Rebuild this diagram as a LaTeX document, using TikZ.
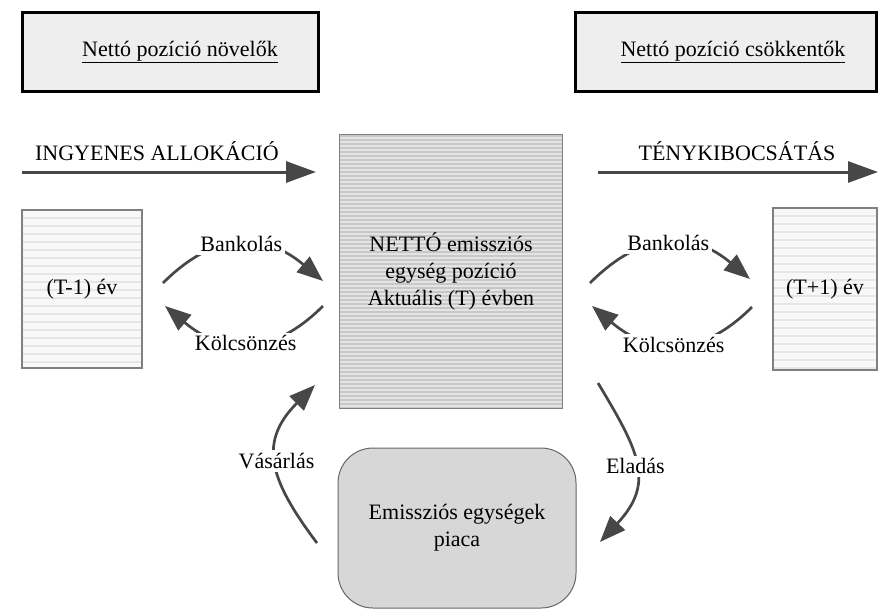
\documentclass[tikz,border=0pt]{standalone}
\usepackage{fontspec}
\setmainfont{Liberation Serif}
\usetikzlibrary{arrows.meta}
\definecolor{arrowgray}{HTML}{474747}
\definecolor{topfill}{HTML}{EEEEEE}
\definecolor{stripedark}{HTML}{C8C8C8}
\definecolor{stripelight}{HTML}{E4E4E4}
\definecolor{sidefill}{HTML}{F8F8F8}
\definecolor{sideline}{HTML}{E6E6E6}
\definecolor{marketfill}{HTML}{D7D7D7}
\tikzset{
    hlines/.style n args={2}{path picture={
        \foreach \k in {0,#2,...,300}
            \draw[#1,line width=1.3pt] ([yshift=-\k pt]path picture bounding box.north west)
                -- ([yshift=-\k pt]path picture bounding box.north east);}},
    headbox/.style={draw=black,line width=3pt,fill=topfill,
        minimum width=296pt,minimum height=79pt},
    netbox/.style={draw=gray,line width=1pt,fill=stripedark,hlines={stripelight}{4},
        minimum width=223pt,minimum height=274pt,align=center},
    yearbox/.style={draw=gray,line width=1.2pt,fill=sidefill,hlines={sideline}{8},
        minimum height=158pt},
    marketbox/.style={draw=gray!80!black,line width=1pt,fill=marketfill,rounded corners=35pt,
        minimum width=238pt,minimum height=160pt,align=center},
    flowarrow/.style={draw=arrowgray,line width=3pt,-{Triangle[length=30pt,width=21pt]}},
    swaparrow/.style={draw=arrowgray,line width=2.7pt,-{Triangle[length=26pt,width=20pt]}},
    swaplabel/.style={fill=white,inner sep=3pt},
}
\begin{document}
\begin{tikzpicture}[x=1pt,y=-1pt,font=\fontsize{22}{27}\selectfont]
    \useasboundingbox (0,0) rectangle (878,611);
    % headers
    \node[headbox] (grow) at (170,52) {\hspace{20pt}\underline{Nettó pozíció növelők}};
    \node[headbox,minimum width=301pt] (shrink) at (726,52) {\hspace{14pt}\underline{Nettó pozíció csökkentők}};
    % boxes
    \node[netbox] (net) at (451,271) {NETTÓ emissziós\\egység pozíció\\Aktuális (T) évben};
    \node[yearbox,minimum width=120pt] (prev) at (82,289) {(T-1) év};
    \node[yearbox,minimum width=104pt,minimum height=162pt] (next) at (825,289) {(T+1) év};
    \node[marketbox] (market) at (457,528) {Emissziós egységek\\piaca};
    % long arrows
    \coordinate (alloc start) at (22,172);
    \coordinate (alloc end) at (316,172);
    \coordinate (emit start) at (598,172);
    \coordinate (emit end) at (878,172);
    \draw[flowarrow] (alloc start) -- (alloc end);
    \draw[flowarrow] (emit start) -- (emit end);
    \node (alloc) at (157,151) {INGYENES ALLOKÁCIÓ};
    \node (emit) at (737,151) {TÉNYKIBOCSÁTÁS};
    % banking / borrowing, left and right
    \coordinate (lb1) at (163,283); \coordinate (lb2) at (323,281);
    \coordinate (lk1) at (323,306); \coordinate (lk2) at (165,306);
    \coordinate (rb1) at (590,283); \coordinate (rb2) at (750,279);
    \coordinate (rk1) at (752,307); \coordinate (rk2) at (592,306);
    \draw[swaparrow] (lb1) to[out=45,in=140,looseness=1.2] node[swaplabel] (lbank) {Bankolás} (lb2);
    \draw[swaparrow] (lk1) to[out=-135,in=-40,looseness=1.2] node[swaplabel] (lborrow) {Kölcsönzés} (lk2);
    \draw[swaparrow] (rb1) to[out=45,in=140,looseness=1.2] node[swaplabel] (rbank) {Bankolás} (rb2);
    \draw[swaparrow] (rk1) to[out=-135,in=-40,looseness=1.2] node[swaplabel] (rborrow) {Kölcsönzés} (rk2);
    % trading with the market
    \coordinate (buy1) at (317,543); \coordinate (buy2) at (315,385);
    \coordinate (sell1) at (598,383); \coordinate (sell2) at (600,542);
    \draw[swaparrow] (buy1) to[out=127,in=225,looseness=1.3] node[swaplabel] (buy) {Vásárlás} (buy2);
    \draw[swaparrow] (sell1) to[out=-59,in=47,looseness=1.3] node[swaplabel] (sell) {Eladás} (sell2);
\end{tikzpicture}
\end{document}
